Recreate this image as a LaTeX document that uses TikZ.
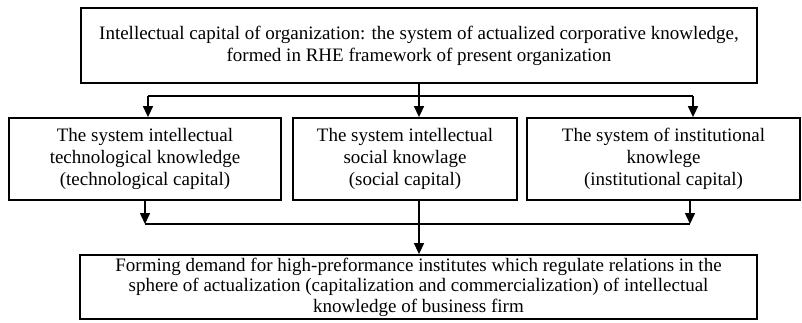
\documentclass[tikz,border=0pt]{standalone}
\usepackage{fontspec}
\setmainfont{Liberation Serif}
\usetikzlibrary{arrows.meta}
\tikzset{
  box/.style={draw, line width=1.8pt, inner sep=0pt, align=center,
    font=\fontsize{19}{22}\selectfont},
  arr/.style={line width=1.5pt, -{Triangle[length=11pt,width=10pt]}},
  ln/.style={line width=1.5pt},
}
\begin{document}
\begin{tikzpicture}[x=1pt,y=-1pt]
\useasboundingbox (0,0) rectangle (802,322);
\node[box, minimum width=676pt, minimum height=75pt] (top) at (419,45.5)
  {Intellectual capital of organization: the system of actualized corporative knowledge,\\
   formed in RHE framework of present organization};
\node[box, minimum width=272pt, minimum height=82pt] (L) at (145,159)
  {The system intellectual\\technological knowledge\\(technological capital)};
\node[box, minimum width=224pt, minimum height=82pt] (M) at (405,159)
  {The system intellectual\\social knowlage\\(social capital)};
\node[box, minimum width=273pt, minimum height=82pt] (R) at (663.5,159)
  {The system of institutional\\knowlege\\(institutional capital)};
\node[box, minimum width=677pt, minimum height=64pt,
  font=\fontsize{19}{20.5}\selectfont] (B) at (418.5,287)
  {Forming demand for high-preformance institutes which regulate relations in the\\
   sphere of actualization (capitalization and commercialization) of intellectual\\
   knowledge of business firm};
% top branching
\coordinate (s1) at (top.south -| 419,0);
\coordinate (j1) at (419,96);
\coordinate (jl) at (148,96);
\coordinate (jr) at (693,96);
\draw[ln] (s1) -- (j1);
\draw[ln] (jl) -- (jr);
\draw[arr] (jl) -- (jl |- L.north);
\draw[arr] (j1) -- (j1 |- M.north);
\draw[arr] (jr) -- (jr |- R.north);
% bottom merging
\coordinate (bl) at (145,224);
\coordinate (br) at (690,224);
\draw[arr] (bl |- L.south) -- (bl);
\draw[arr] (br |- R.south) -- (br);
\draw[ln] (bl) -- (br);
\draw[arr] (419,0 |- M.south) -- (419,0 |- B.north);
\end{tikzpicture}
\end{document}
